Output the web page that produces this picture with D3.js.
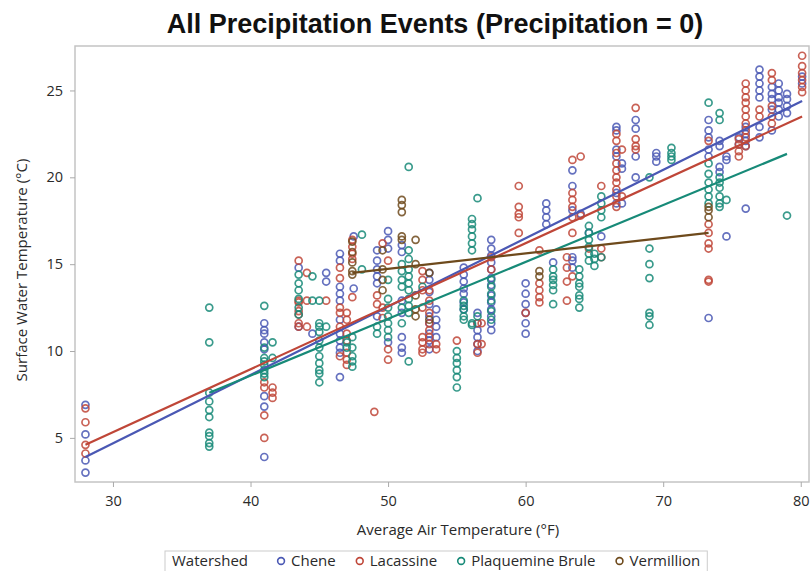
<!DOCTYPE html>
<html>
<head>
<meta charset="UTF-8">
<title>All Precipitation Events</title>
<script src="https://cdn.jsdelivr.net/npm/d3@7"></script>
<style>
  body { margin: 0; background: #fff; }
  text { font-family: "Open Sans", "Liberation Sans", sans-serif; fill: #2a2a2a; }
</style>
</head>
<body>
<script>
// columns of [air temperature, [surface water temperatures]] per watershed
var chene = [
  [28, [3.0, 3.7, 5.2, 6.9]],
  [41, [3.9, 6.8, 7.4, 10.1, 10.5, 11.0, 11.2, 11.6]],
  [43.5, [11.4, 14.8]],
  [44.5, [11.0]],
  [45.5, [14.0, 14.5]],
  [46.5, [8.5, 9.9, 10.2, 10.6, 11.0, 11.8, 12.9, 13.3, 13.7, 15.2, 15.6]],
  [47.5, [13.6, 16.6]],
  [49.2, [12.0, 13.9, 14.3, 14.7, 15.2, 15.8]],
  [50, [10.5, 15.9, 16.4, 16.9]],
  [51, [9.9, 10.2, 10.8, 12.2, 12.9, 15.7, 16.1]],
  [53, [10.1, 10.6, 11.0, 11.6, 12.0, 12.7, 13.4, 14.1, 14.5]],
  [53.5, [10.8, 11.4, 11.8, 12.4]],
  [55.5, [12.4, 12.8, 13.3, 13.6, 14.0, 14.4, 14.8]],
  [56.5, [10.0, 10.4, 10.8, 11.2, 11.6, 12.2]],
  [57.5, [11.2, 11.6, 12.0, 12.4, 12.8, 13.2, 13.8, 14.2, 14.7, 15.1, 15.5, 15.9, 16.4]],
  [60, [11.0, 11.6, 12.2, 12.7, 13.3, 13.9]],
  [61.5, [17.3, 17.7, 18.1, 18.5]],
  [62, [15.1]],
  [63.4, [14.8, 15.2, 15.4, 18.1, 19.5, 20.4]],
  [64, [17.9]],
  [64.6, [16.8]],
  [65.5, [16.6]],
  [66.6, [18.5, 19.1, 21.2, 21.6, 22.7, 22.9]],
  [67, [18.5, 20.5, 20.8]],
  [68, [20.0, 21.2, 22.8, 23.3]],
  [69.5, [20.9, 21.2, 21.4]],
  [73.3, [11.9, 21.2, 21.6, 22.3, 22.7, 23.3]],
  [74.1, [20.3, 20.6, 21.8, 22.1]],
  [74.6, [16.6, 21.0, 21.2]],
  [75.5, [21.9, 22.3]],
  [76, [18.2, 21.8, 22.1, 22.5, 22.9]],
  [77, [22.3, 22.9, 24.6, 25.0, 25.4, 25.8, 26.2]],
  [77.9, [22.7, 23.9, 24.5, 24.8, 25.2]],
  [78.4, [23.5, 23.9, 24.3, 24.6, 25.0, 25.4]],
  [79, [23.7, 24.1, 24.5, 24.8]],
  [80.1, [25.4, 25.8]]
];
var lacassine = [
  [28, [4.1, 4.6, 5.9, 6.7]],
  [41, [5.0, 6.3, 7.9, 8.2]],
  [41.6, [7.3, 7.6, 7.9]],
  [43.5, [11.4, 11.6, 12.1, 12.3, 12.8, 12.9, 15.2]],
  [44.1, [11.4, 12.9, 14.5]],
  [45.5, [12.9]],
  [46.5, [9.7, 11.4, 12.2, 12.5, 14.2, 14.8]],
  [47, [9.2, 9.5, 9.9, 10.6, 11.0, 11.8, 12.2]],
  [47.4, [13.1, 15.3, 15.6, 16.0, 16.4]],
  [49, [6.5]],
  [49.2, [12.7, 13.2]],
  [49.6, [11.9, 12.5, 16.2]],
  [50, [9.5, 10.1, 15.2]],
  [52.5, [9.9, 10.1, 10.5, 10.8, 12.5, 13.5, 14.1, 14.6]],
  [53, [10.4, 10.8, 11.2, 11.6, 12.2, 12.9, 13.5]],
  [53.5, [10.1, 10.4]],
  [55, [10.6]],
  [56.5, [9.9, 10.4, 11.6]],
  [56.8, [10.4, 11.6]],
  [57.5, [14.7, 15.4]],
  [59.5, [16.8, 17.7, 17.9, 18.3, 19.5]],
  [60, [12.2]],
  [61, [12.8, 13.1, 13.5, 13.9, 15.8]],
  [63, [12.9, 14.0, 14.8, 15.4]],
  [63.4, [14.3, 16.8, 17.7, 18.3, 18.7, 19.1, 21.0]],
  [64, [17.8, 21.2]],
  [64.6, [15.9]],
  [65.5, [15.4, 15.9, 19.5]],
  [66.6, [18.3, 18.9, 19.3, 19.7, 20.0, 20.4, 20.8, 21.4, 22.1, 22.5]],
  [67, [18.9, 21.6]],
  [68, [21.6, 21.8, 22.2, 24.0]],
  [73.3, [14.0, 14.1, 15.9, 16.2, 16.8, 17.3, 22.1]],
  [75.5, [21.2, 21.5, 21.9, 22.2]],
  [76, [21.8, 22.3, 22.7, 23.1, 23.5, 23.9, 24.3, 24.6, 25.0, 25.4]],
  [77, [23.5, 23.9]],
  [77.9, [23.1, 23.5, 24.1, 25.6, 26.0]],
  [80.1, [24.9, 25.2, 25.6, 26.0, 26.4, 27.0]]
];
var plaquemine = [
  [37, [4.5, 4.7, 5.1, 5.3, 6.2, 6.6, 7.1, 7.6, 10.5, 12.5]],
  [41, [8.5, 8.7, 8.9, 9.2, 9.4, 9.6, 10.2, 12.6]],
  [41.6, [9.6, 10.5]],
  [43.5, [12.1, 12.5, 13.0, 13.5, 13.9, 14.4]],
  [44.5, [12.9, 14.3]],
  [45, [8.2, 8.7, 8.9, 9.3, 9.7, 10.2, 10.6, 11.1, 11.4, 11.6, 12.9]],
  [45.5, [11.4]],
  [47, [10.2, 10.5]],
  [47.4, [9.1, 9.4, 9.7, 10.2, 10.8]],
  [48.1, [14.7, 16.7]],
  [49.2, [11.0, 11.4]],
  [50, [10.8, 11.2, 11.6, 12.0, 12.5, 13.0, 14.1]],
  [51, [11.6, 12.5, 13.7, 14.1, 14.6, 15.0]],
  [51.5, [9.4, 12.2, 12.6, 13.0, 13.5, 13.9, 14.3, 14.7, 15.3, 15.8, 20.6]],
  [52.5, [13.7]],
  [55, [7.9, 8.5, 8.9, 9.3, 9.6, 10.0]],
  [55.5, [11.8, 12.0, 12.4, 12.6, 12.9]],
  [56.1, [11.5, 11.6, 15.8, 16.2, 16.6, 17.0, 17.3, 17.6]],
  [56.5, [12.0, 18.8]],
  [57.5, [11.8, 12.3, 12.9, 13.3, 13.7, 14.1]],
  [62, [12.7, 13.5, 13.8, 14.1, 14.3, 14.7]],
  [63.9, [12.5, 13.0, 13.2, 13.7, 13.9, 14.3, 14.7]],
  [64.6, [15.2, 15.6, 16.0, 16.4, 16.8, 17.2]],
  [65, [14.9, 15.3, 15.6]],
  [65.5, [15.4, 17.7, 18.1, 18.5, 18.9]],
  [69, [11.5, 12.0, 12.2, 14.2, 15.0, 15.9, 20.0]],
  [70.6, [21.0, 21.2, 21.4, 21.7]],
  [73.3, [18.5, 18.9, 19.3, 19.7, 20.2, 20.8, 24.3]],
  [74.1, [18.3, 18.5, 18.9, 19.4, 19.7, 20.0, 23.3, 23.7]],
  [74.6, [18.7]],
  [79, [17.8]]
];
var vermillion = [
  [47.4, [14.4, 14.6, 15.1, 15.7, 16.3]],
  [49.6, [13.5, 14.1, 14.7, 15.8]],
  [51, [16.4, 16.6, 18.0, 18.4, 18.7]],
  [52, [12.0, 12.4, 13.2, 15.0, 16.4]],
  [53, [11.8, 14.5]],
  [61, [14.3, 14.6]],
  [73.3, [17.7, 18.1, 18.3]]
];

// regression line end points
var cheneFit = [[28, 3.9], [80.1, 24.4]];
var lacassineFit = [[28, 4.6], [80.1, 23.5]];
var plaquemineFit = [[37, 7.6], [79, 21.35]];
var vermillionFit = [[47.4, 14.5], [73.3, 16.8]];

var watersheds = ["Chene", "Lacassine", "Plaquemine Brule", "Vermillion"];
var colors = ["#4a58b4", "#bf4638", "#178a78", "#6e4a1c"];
var xTicks = [30, 40, 50, 60, 70, 80];
var yTicks = [5, 10, 15, 20, 25];

var groups = [
  {name: watersheds[0], pts: chene, fit: cheneFit, color: colors[0]},
  {name: watersheds[1], pts: lacassine, fit: lacassineFit, color: colors[1]},
  {name: watersheds[2], pts: plaquemine, fit: plaquemineFit, color: colors[2]},
  {name: watersheds[3], pts: vermillion, fit: vermillionFit, color: colors[3]}
];

var W = 810, H = 571;
var pL = 75, pR = 809, pT = 46, pB = 482;

var svg = d3.select("body").append("svg")
  .attr("width", W)
  .attr("height", H);

var x = d3.scaleLinear().domain([27.24, 80.6]).range([pL, pR]);
var y = d3.scaleLinear().domain([2.46, 27.56]).range([pB, pT]);

// title
svg.append("text")
  .attr("x", 435).attr("y", 33)
  .attr("text-anchor", "middle")
  .style("font-family", "'Liberation Sans', Arial, sans-serif")
  .style("font-weight", "bold")
  .style("font-size", "27px")
  .style("fill", "#111")
  .text("All Precipitation Events (Precipitation = 0)");

// frame
svg.append("rect")
  .attr("x", pL).attr("y", pT)
  .attr("width", pR - pL).attr("height", pB - pT)
  .attr("fill", "none")
  .attr("stroke", "#c4c4c4")
  .attr("stroke-width", 1.5);

// axes
var xAxis = svg.append("g")
  .attr("transform", "translate(0," + pB + ")")
  .call(d3.axisBottom(x).tickValues(xTicks).tickSize(5).tickSizeOuter(0).tickPadding(9));
var yAxis = svg.append("g")
  .attr("transform", "translate(" + pL + ",0)")
  .call(d3.axisLeft(y).tickValues(yTicks).tickSize(5).tickSizeOuter(0).tickPadding(7));

[xAxis, yAxis].forEach(function(a) {
  a.select(".domain").remove();
  a.selectAll(".tick line").attr("stroke", "#aaa");
  a.selectAll(".tick text")
    .style("font-family", "'Open Sans', sans-serif")
    .style("font-size", "14.5px")
    .style("fill", "#2a2a2a");
});

// axis labels
svg.append("text")
  .attr("x", 458).attr("y", 535)
  .attr("text-anchor", "middle")
  .style("font-size", "15px")
  .text("Average Air Temperature (°F)");
svg.append("text")
  .attr("transform", "translate(27,270) rotate(-90)")
  .attr("text-anchor", "middle")
  .style("font-size", "15px")
  .text("Surface Water Temperature (°C)");

// points
groups.forEach(function(g) {
  var flat = [];
  g.pts.forEach(function(c) {
    c[1].forEach(function(v) { flat.push([c[0], v]); });
  });
  svg.append("g").selectAll("circle")
    .data(flat)
    .enter()
    .append("circle")
    .attr("cx", function(d) { return x(d[0]); })
    .attr("cy", function(d) { return y(d[1]); })
    .attr("r", 3.5)
    .attr("fill", "none")
    .attr("stroke", g.color)
    .attr("stroke-opacity", 0.85)
    .attr("stroke-width", 1.7);
});

// fit lines
var line = d3.line()
  .x(function(d) { return x(d[0]); })
  .y(function(d) { return y(d[1]); });
groups.forEach(function(g) {
  svg.append("path")
    .datum(g.fit)
    .attr("d", line)
    .attr("fill", "none")
    .attr("stroke", g.color)
    .attr("stroke-width", 2.2);
});

// legend
var leg = svg.append("g");
var legBox = leg.append("rect")
  .attr("y", 551).attr("height", 30)
  .attr("fill", "none")
  .attr("stroke", "#ccc");
var lx = 172;
var t0 = leg.append("text")
  .attr("x", lx).attr("y", 566)
  .style("font-size", "15px")
  .text("Watershed");
lx += t0.node().getComputedTextLength() + 33;
groups.forEach(function(g) {
  leg.append("circle")
    .attr("cx", lx).attr("cy", 561)
    .attr("r", 3.4)
    .attr("fill", "none")
    .attr("stroke", g.color)
    .attr("stroke-width", 1.6);
  var t = leg.append("text")
    .attr("x", lx + 10).attr("y", 566)
    .style("font-size", "15px")
    .text(g.name);
  lx += 10 + t.node().getComputedTextLength() + 24;
});
legBox.attr("x", 165).attr("width", lx - 24 + 7 - 165);
</script>
</body>
</html>
